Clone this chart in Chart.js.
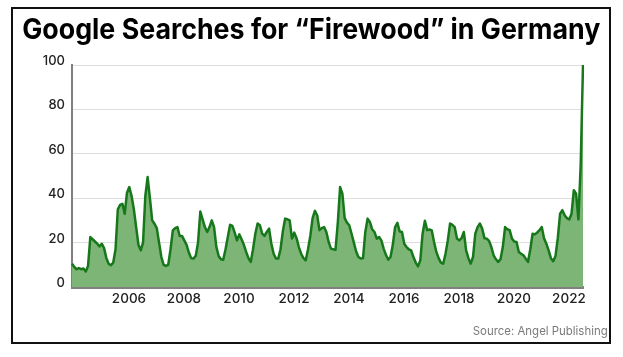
<!DOCTYPE html>
<html><head><meta charset="utf-8">
<script src="https://cdn.jsdelivr.net/npm/chart.js@4"></script>
<style>
html,body{margin:0;padding:0;background:#fff;}
#wrap{position:relative;width:623px;height:357px;overflow:hidden;background:#fff;}
#frame{position:absolute;left:11px;top:7px;width:600px;height:337px;border:2px solid #111;box-sizing:border-box;}
#title{position:absolute;left:0;top:15px;width:623px;text-align:center;font-family:Inter,"DejaVu Sans",sans-serif;font-weight:700;font-size:28px;line-height:28px;color:#000;white-space:nowrap;}
#title span{display:inline-block;transform-origin:center;}
#source{position:absolute;right:15px;top:325px;font-family:Inter,sans-serif;font-size:12px;line-height:12px;color:#7a7a7a;white-space:nowrap;transform-origin:right center;}
canvas{position:absolute;left:0;top:0;}
</style></head>
<body>
<div id="wrap">
<div id="frame"></div>
<canvas id="c" width="623" height="357"></canvas>
<div id="title"><span id="tspan">Google Searches for “Firewood” in Germany</span></div>
<div id="source">Source: Angel Publishing</div>
</div>
<script>
const startYear = 2004;
const monthCount = 224;
const monthLabels = [];
for (let i = 0; i < monthCount; i++) {
  const y = startYear + Math.floor(i / 12);
  const m = (i % 12) + 1;
  monthLabels.push(y + '-' + (m < 10 ? '0' + m : m));
}
const yearTicks = ['2006','2008','2010','2012','2014','2016','2018','2020','2022'];
const yTicks = [0, 20, 40, 60, 80, 100];
const searchIndex = [
  10.5, 9, 8, 8.5, 8, 8.3, 7, 9.5, 22.5, 21.5, 20.5, 19.5,
  18.3, 19.5, 17.5, 13, 10.5, 9.8, 11, 17, 35, 37, 37.5, 33,
  42.5, 45, 41, 35, 27, 19, 16.5, 20, 41, 49.5, 40, 30,
  28.5, 26.5, 20, 13.5, 10, 9.5, 10, 17, 25.5, 26.5, 27, 23,
  23, 21, 19, 15.5, 13, 12.8, 14, 20, 34, 30.5, 27, 24.8,
  27, 30, 27, 18, 14, 12.5, 12.3, 17, 22.5, 28, 27.5, 24.5,
  21, 23.7, 21.5, 19, 15.8, 13, 11.3, 17, 24, 28.6, 27.8, 24,
  23, 24.8, 26.3, 19.5, 15, 12.8, 12.8, 17, 25, 30.8, 30.5, 30,
  21.8, 24.5, 22, 18, 15, 13, 12, 17, 23, 31, 34.3, 32.3,
  25.6, 26.5, 27, 24.8, 20.3, 17.3, 17, 16.8, 29, 45, 42, 31,
  29, 27.8, 24, 20, 16, 13.5, 12.8, 13, 24.8, 30.8, 29.3, 26,
  24.8, 21.8, 22.5, 21, 17.3, 14.5, 12.3, 13.5, 19, 27, 28.9, 25,
  24.8, 19.5, 18, 17, 16.5, 13.5, 11, 9.3, 12, 24, 29.8, 25.6,
  25.9, 25.5, 20.3, 15.8, 13, 11, 10.5, 15, 21, 28.6, 28, 27,
  21.8, 21, 22, 24.8, 16.5, 13, 10.5, 13.5, 24, 27, 28.6, 26.3,
  22, 21.8, 20.8, 18, 14.3, 12.5, 11.3, 12.5, 18, 27, 26, 25.6,
  21.8, 20.5, 20.3, 15.8, 15, 14.3, 12.8, 11.3, 17, 24, 23.7, 24.5,
  25.6, 27, 22, 19.5, 16.5, 13, 11.6, 14, 22, 33, 34.6, 32.3,
  31, 30.4, 33, 43.6, 42, 30.4, 55, 100
];

const tickFont = {family: 'Inter', size: 13.5, weight: '500'};

new Chart(document.getElementById('c'), {
  type: 'line',
  data: {
    labels: monthLabels,
    datasets: [{
      data: searchIndex,
      borderColor: '#17781b',
      borderWidth: 2.5,
      backgroundColor: '#7db577',
      fill: 'origin',
      pointRadius: 0,
      tension: 0,
      borderJoinStyle: 'round'
    }]
  },
  options: {
    responsive: false,
    animation: false,
    devicePixelRatio: 1,
    layout: {padding: {left: 0, top: 65, right: 40, bottom: 0}},
    plugins: {legend: {display: false}, tooltip: {enabled: false}},
    scales: {
      x: {
        type: 'category',
        offset: false,
        grid: {display: false, drawTicks: false},
        border: {display: true, color: '#808080', width: 3},
        ticks: {
          autoSkip: false, maxRotation: 0, minRotation: 0, padding: 4, labelOffset: 2,
          font: tickFont, color: '#222',
          callback: function(v, i) {
            const l = monthLabels[i];
            const y = l.slice(0, 4);
            return (l.endsWith('-01') && yearTicks.includes(y)) ? y : '';
          }
        },
        afterFit: function(s) { s.height = 70; }
      },
      y: {
        min: 0, max: 100,
        grid: {color: '#dedede', lineWidth: 1, drawTicks: false},
        border: {display: true, color: '#808080', width: 2},
        ticks: {padding: 7, labelOffset: -4, font: {family: 'Inter', size: 13, weight: '500'}, color: '#222'},
        afterBuildTicks: function(s) { s.ticks = yTicks.map(v => ({value: v})); },
        afterFit: function(s) { s.width = 72; }
      }
    }
  }
});

// fit title and source widths to reference
const ts = document.getElementById('tspan');
const tw = ts.getBoundingClientRect().width;
ts.style.transform = 'scaleX(' + (578 / tw) + ')';
const src = document.getElementById('source');
const sw = src.getBoundingClientRect().width;
src.style.transform = 'scaleX(' + (135 / sw) + ')';
</script>
</body></html>
